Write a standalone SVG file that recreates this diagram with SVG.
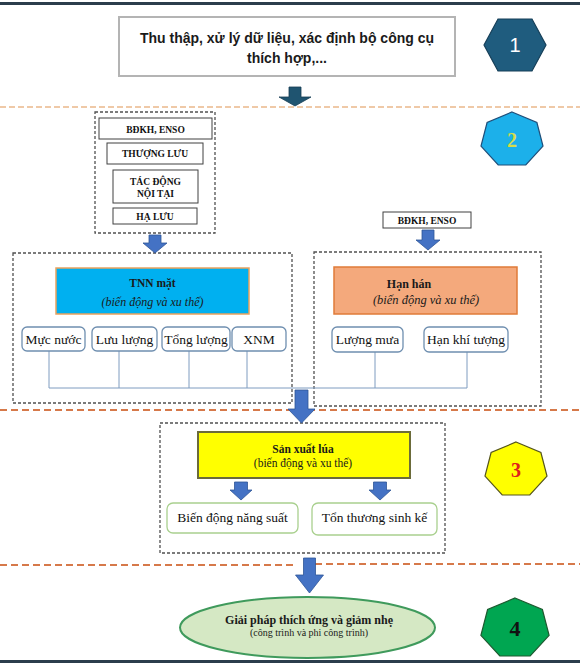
<svg xmlns="http://www.w3.org/2000/svg" width="580" height="668" viewBox="0 0 580 668">
<defs>
<style>
.sans{font-family:"Liberation Sans",Arial,sans-serif}
.serif{font-family:"Liberation Serif","Times New Roman",serif}
.dbox{fill:none;stroke:#505050;stroke-width:1.3;stroke-dasharray:3,2}
.sbox{fill:#fff;stroke:#404040;stroke-width:1}
.rbox{fill:#fff;stroke:#6f8fb0;stroke-width:1.3}
.gbox{fill:#fff;stroke:#a9d08e;stroke-width:1.3}
.conn{fill:none;stroke:#7f9cc0;stroke-width:1}
.barrow{fill:#4472c4;stroke:#2f5597;stroke-width:0.8}
.sep1{stroke:#eab88a;stroke-width:1.6;stroke-dasharray:6,3}
.sep2{stroke:#d6794a;stroke-width:2;stroke-dasharray:7,4}
.t13{font-size:13.5px;fill:#111}
.tb9{font-size:9.5px;font-weight:bold;fill:#111}
</style>
</defs>
<rect x="0" y="2" width="580" height="3" fill="#2b3d4c"/>
<rect x="0" y="660" width="580" height="3" fill="#2b3d4c"/>
<g id="separators">
<line class="sep1" x1="0" y1="107" x2="580" y2="107"/>
<line class="sep2" x1="0" y1="410" x2="580" y2="410"/>
<line class="sep2" x1="0" y1="565" x2="293" y2="565"/>
<line class="sep2" x1="315" y1="564" x2="580" y2="564"/>
</g>
<g id="dashed-groups">
<rect class="dbox" x="95" y="112" width="120" height="121"/>
<rect class="dbox" x="13" y="253" width="279" height="150"/>
<rect class="dbox" x="314" y="252" width="227" height="154"/>
<rect class="dbox" x="160" y="423" width="285" height="130"/>
</g>
<g id="connectors">
<polyline class="conn" points="49,351 49,388 467,388 467,352"/>
<line class="conn" x1="119" y1="351" x2="119" y2="388"/>
<line class="conn" x1="189" y1="351" x2="189" y2="388"/>
<line class="conn" x1="247" y1="351" x2="247" y2="388"/>
<line class="conn" x1="375" y1="352" x2="375" y2="388"/>
<polygon points="289,87 301,87 301,97 311,97 295,106 279,97 289,97" fill="#1f5470" stroke="#163d54" stroke-width="0.8"/>
<polygon class="barrow" points="149,235 161,235 161,243 167,243 155,253 143,243 149,243"/>
<polygon class="barrow" points="422,230 434,230 434,240 440,240 428,250 416,240 422,240"/>
<polygon class="barrow" points="295,390 308,390 308,409 315,409 301.5,423 288,409 295,409"/>
<polygon class="barrow" points="234.5,482 247.5,482 247.5,490 252,490 241,500 230,490 234.5,490"/>
<polygon class="barrow" points="373.5,482 386.5,482 386.5,490 391,490 380,500 369,490 373.5,490"/>
<polygon class="barrow" points="303.5,558 315.5,558 315.5,575 323.5,575 309.5,593 295.5,575 303.5,575"/>
</g>
<g id="n1">
<rect x="119" y="17" width="336" height="59" fill="#fff" stroke="#b4b4b4" stroke-width="2"/>
<text class="sans" x="287" y="43" text-anchor="middle" font-size="14" font-weight="bold" fill="#1a1a1a">Thu thập, xử lý dữ liệu, xác định bộ công cụ</text>
<text class="sans" x="287" y="63" text-anchor="middle" font-size="14" font-weight="bold" fill="#1a1a1a">thích hợp,...</text>
</g>
<g id="step1">
<polygon points="484,45 498,19 532,19 546,45 532,71 498,71" fill="#1f5c7e" stroke="#163f58" stroke-width="1.2"/>
<text class="sans" x="515" y="52" text-anchor="middle" font-size="20" fill="#fff">1</text>
</g>
<g id="step2">
<polygon points="512,112 536.9,122.5 543,146.1 525.8,165 498.2,165 481,146.1 487.1,122.5" fill="#1cb0ea" stroke="#1f4e79" stroke-width="1.2"/>
<text class="serif" x="512" y="147" text-anchor="middle" font-size="20" font-weight="bold" fill="#d8dc48">2</text>
</g>
<g id="step3">
<polygon points="516,442 540.9,452.5 547,476.1 529.8,495 502.2,495 485,476.1 491.1,452.5" fill="#ffff00" stroke="#55551c" stroke-width="1.2"/>
<text class="serif" x="516" y="477" text-anchor="middle" font-size="20" font-weight="bold" fill="#e0201c">3</text>
</g>
<g id="step4">
<polygon points="515,598 542.4,609.5 549.1,635.3 530.2,656 499.8,656 480.9,635.3 487.6,609.5" fill="#00a651" stroke="#1e5a30" stroke-width="1.2"/>
<text class="serif" x="515" y="636" text-anchor="middle" font-size="22" font-weight="bold" fill="#111">4</text>
</g>
<g id="bdkh-left">
<rect class="sbox" x="99" y="118" width="113" height="21"/>
<text class="serif tb9" x="155.5" y="132.5" text-anchor="middle">BĐKH, ENSO</text>
</g>
<g id="thuong-luu">
<rect class="sbox" x="107" y="143" width="96" height="21"/>
<text class="serif tb9" x="155" y="157" text-anchor="middle">THƯỢNG LƯU</text>
</g>
<g id="tac-dong">
<rect class="sbox" x="113" y="170" width="85" height="33"/>
<text class="serif tb9" x="155.5" y="185" text-anchor="middle">TÁC ĐỘNG</text>
<text class="serif tb9" x="155.5" y="197" text-anchor="middle">NỘI TẠI</text>
</g>
<g id="ha-luu">
<rect class="sbox" x="113" y="208" width="84" height="16"/>
<text class="serif tb9" x="155" y="219.5" text-anchor="middle">HẠ LƯU</text>
</g>
<g id="bdkh-right">
<rect class="sbox" x="383" y="212" width="88" height="16"/>
<text class="serif tb9" x="427" y="223.5" text-anchor="middle">BĐKH, ENSO</text>
</g>
<g id="tnn">
<rect x="56" y="268" width="193" height="46" fill="#00b0f0" stroke="#e9a25e" stroke-width="1.5"/>
<text class="serif" x="152.5" y="287" text-anchor="middle" font-size="11.5" font-weight="bold" fill="#1a1a1a">TNN mặt</text>
<text class="serif" x="152.5" y="306" text-anchor="middle" font-size="12" font-style="italic" fill="#1a1a1a">(biến động và xu thế)</text>
</g>
<g id="han-han">
<rect x="334" y="267" width="183" height="47" fill="#f4a97c" stroke="#e07b39" stroke-width="1.5"/>
<text class="serif" x="409" y="288" text-anchor="middle" font-size="12" font-weight="bold" fill="#1a1a1a">Hạn hán</text>
<text class="serif" x="426" y="304" text-anchor="middle" font-size="12.5" font-style="italic" fill="#1a1a1a">(biến động và xu thế)</text>
</g>
<g id="muc-nuoc">
<rect class="rbox" x="22" y="327" width="63" height="24" rx="5"/>
<text class="serif t13" x="53.5" y="343.5" text-anchor="middle">Mực nước</text>
</g>
<g id="luu-luong">
<rect class="rbox" x="92" y="327" width="65" height="24" rx="5"/>
<text class="serif t13" x="124.5" y="343.5" text-anchor="middle">Lưu lượng</text>
</g>
<g id="tong-luong">
<rect class="rbox" x="162" y="327" width="68" height="24" rx="5"/>
<text class="serif t13" x="196" y="343.5" text-anchor="middle">Tổng lượng</text>
</g>
<g id="xnm">
<rect class="rbox" x="232" y="327" width="54" height="24" rx="5"/>
<text class="serif t13" x="259" y="343.5" text-anchor="middle">XNM</text>
</g>
<g id="luong-mua">
<rect class="rbox" x="332" y="327" width="71" height="25" rx="5"/>
<text class="serif t13" x="367.5" y="344" text-anchor="middle">Lượng mưa</text>
</g>
<g id="han-khi-tuong">
<rect class="rbox" x="424" y="327" width="84" height="25" rx="5"/>
<text class="serif t13" x="466" y="344" text-anchor="middle">Hạn khí tượng</text>
</g>
<g id="san-xuat-lua">
<rect x="198" y="432" width="212" height="46" fill="#ffff00" stroke="#6b6b3a" stroke-width="2"/>
<text class="serif" x="303" y="453" text-anchor="middle" font-size="11.5" font-weight="bold" fill="#1a1a1a">Sản xuất lúa</text>
<text class="serif" x="303" y="467" text-anchor="middle" font-size="11.5" fill="#1a1a1a">(biến động và xu thế)</text>
</g>
<g id="bien-dong-nang-suat">
<rect class="gbox" x="167" y="503" width="131" height="30" rx="6"/>
<text class="serif t13" x="232.5" y="522" text-anchor="middle">Biến động năng suất</text>
</g>
<g id="ton-thuong-sinh-ke">
<rect class="gbox" x="312" y="503" width="125" height="32" rx="6"/>
<text class="serif t13" x="374.5" y="522" text-anchor="middle">Tổn thương sinh kế</text>
</g>
<g id="giai-phap">
<ellipse cx="307.5" cy="627.5" rx="127.5" ry="30.5" fill="#d5e8c4" stroke="#3f9a5c" stroke-width="2"/>
<text class="serif" x="309" y="624" text-anchor="middle" font-size="12" font-weight="bold" fill="#1a1a1a">Giải pháp thích ứng và giảm nhẹ</text>
<text class="serif" x="309" y="636" text-anchor="middle" font-size="10" fill="#1a1a1a">(công trình và phi công trình)</text>
</g>
</svg>
